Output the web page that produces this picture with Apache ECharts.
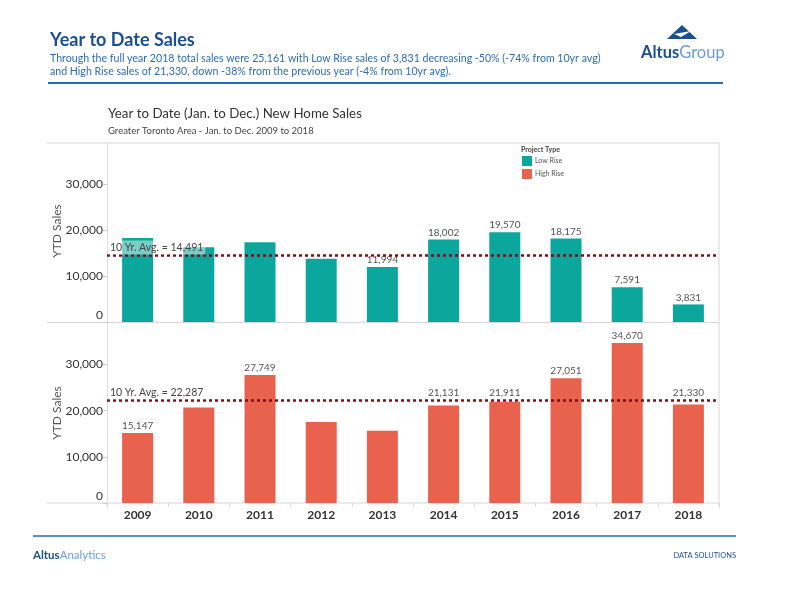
<!DOCTYPE html>
<html lang="en">
<head>
    <meta charset="UTF-8">
    <title>Year to Date Sales</title>
    <script src="https://cdn.jsdelivr.net/npm/echarts@6/dist/echarts.min.js"></script>
    <style>
        body { margin: 0; padding: 0; background: #fff; }
        #chart { width: 786px; height: 592px; }
    </style>
</head>
<body>
    <div id="chart"></div>
    <script>
        // data
        var years = ['2009', '2010', '2011', '2012', '2013', '2014', '2015', '2016', '2017', '2018'];
        var lowRise = [18300, 16300, 17390, 13760, 11994, 18002, 19570, 18175, 7591, 3831];
        var highRise = [15147, 20680, 27749, 17550, 15650, 21131, 21911, 27051, 34670, 21330];
        // which bars carry a value label in the original
        var lowLabelled = [false, false, false, false, true, true, true, true, true, true];
        var highLabelled = [true, false, true, false, false, true, true, true, true, true];
        var lowAvg = 14491;
        var highAvg = 22287;

        var teal = '#0ba79c';
        var salmon = '#e8624d';
        var navy = '#1b4f91';
        var lightBlue = '#6b9bd9';
        var font = 'Lato';
        var yMax = 39000;
        var panelHeight = 180;

        var myChart = echarts.init(document.getElementById('chart'));

        function fmt(v) {
            return Number(v).toLocaleString('en-US');
        }

        // labels of bars just under the average line get lifted over it, like the original
        function barData(values, shown, avg) {
            return values.map(function (v, i) {
                var dist = 2;
                if (v < avg && avg - v < 2000) {
                    dist = (avg - v) * panelHeight / yMax + 2;
                }
                return { value: v, label: { show: shown[i], distance: dist } };
            });
        }

        function avgLine(value) {
            return {
                silent: true,
                symbol: 'none',
                lineStyle: { color: '#7d0f12', type: [3, 3], width: 2.5 },
                label: {
                    show: true,
                    position: 'insideStartTop',
                    formatter: '10 Yr. Avg. = ' + fmt(value),
                    color: '#444',
                    fontSize: 10.5,
                    fontFamily: font,
                    backgroundColor: 'rgba(255,255,255,0.45)',
                    padding: [2, 2, 1, 2],
                    distance: [1, 1]
                },
                data: [{ yAxis: value }]
            };
        }

        function yAxisCfg(gridIndex) {
            return {
                type: 'value',
                gridIndex: gridIndex,
                min: 0,
                max: yMax,
                interval: 10000,
                axisLine: { show: true, lineStyle: { color: '#ddd' } },
                axisTick: { show: true, length: 4, lineStyle: { color: '#ccc' } },
                axisLabel: {
                    color: '#333', fontSize: 12, fontFamily: font, margin: 4,
                    showMaxLabel: false,
                    formatter: function (v) { return v === 0 ? '{z|0}' : fmt(v); },
                    rich: { z: { color: '#333', fontSize: 12, fontFamily: font, padding: [0, 0, 13, 0] } }
                },
                splitLine: { show: false }
            };
        }

        function axisTitle(cy) {
            return {
                type: 'text', x: 57, y: cy, rotation: Math.PI / 2,
                style: { text: 'YTD Sales', fill: '#555', font: '12px ' + font, align: 'center', verticalAlign: 'middle' }
            };
        }

        var labelStyle = { position: 'top', color: '#555', fontSize: 10, fontFamily: font, distance: 2, formatter: function (p) { return fmt(p.value); } };

        myChart.setOption({
            animation: false,
            textStyle: { fontFamily: font },
            legend: {
                orient: 'vertical',
                left: 522,
                top: 156,
                padding: 0,
                itemWidth: 10,
                itemHeight: 10,
                itemGap: 3,
                icon: 'rect',
                textStyle: { fontSize: 7, color: '#555', fontFamily: font, padding: [0, 0, 0, -2] },
                data: ['Low Rise', 'High Rise']
            },
            grid: [
                { left: 107, top: 143, width: 612, height: 179 },
                { left: 107, top: 323, width: 612, height: panelHeight }
            ],
            xAxis: [
                {
                    type: 'category', gridIndex: 0, data: years,
                    axisLine: { show: false }, axisTick: { show: false }, axisLabel: { show: false }
                },
                {
                    type: 'category', gridIndex: 1, data: years,
                    axisLine: { show: false },
                    axisTick: { show: true, length: 4, lineStyle: { color: '#ddd' } },
                    axisLabel: { color: '#333', fontSize: 12, fontWeight: 'bold', fontFamily: font, margin: 6 }
                }
            ],
            yAxis: [yAxisCfg(0), yAxisCfg(1)],
            series: [
                {
                    name: 'Low Rise',
                    type: 'bar',
                    xAxisIndex: 0,
                    yAxisIndex: 0,
                    barWidth: 31,
                    itemStyle: { color: teal },
                    label: labelStyle,
                    data: barData(lowRise, lowLabelled, 0),
                    markLine: avgLine(lowAvg)
                },
                {
                    name: 'High Rise',
                    type: 'bar',
                    xAxisIndex: 1,
                    yAxisIndex: 1,
                    barWidth: 31,
                    itemStyle: { color: salmon },
                    label: labelStyle,
                    data: barData(highRise, highLabelled, highAvg),
                    markLine: avgLine(highAvg)
                }
            ],
            graphic: [
                // header
                { type: 'text', left: 50, top: 31, style: { text: 'Year to Date Sales', fill: navy, font: 'bold 18px ' + font } },
                { type: 'text', left: 50, top: 53, style: { text: 'Through the full year 2018 total sales were 25,161 with Low Rise sales of 3,831 decreasing -50% (-74% from 10yr avg)', fill: '#2d6cb8', font: '10.6px ' + font } },
                { type: 'text', left: 50, top: 66, style: { text: 'and High Rise sales of 21,330, down -38% from the previous year (-4% from 10yr avg).', fill: '#2d6cb8', font: '10.6px ' + font } },
                { type: 'line', shape: { x1: 48, y1: 83, x2: 723, y2: 83 }, style: { stroke: '#1f6db6', lineWidth: 2 } },
                // logo
                { type: 'polygon', shape: { points: [[682, 25], [667, 39], [697, 39]] }, style: { fill: navy } },
                { type: 'polygon', shape: { points: [[674, 34], [691, 31], [681, 37]] }, style: { fill: '#fff' } },
                {
                    type: 'text', left: 641, top: 44,
                    style: {
                        text: '{a|Altus}{b|Group}',
                        rich: {
                            a: { fill: navy, font: 'bold 16.5px ' + font },
                            b: { fill: lightBlue, font: '16.5px ' + font }
                        }
                    }
                },
                // chart titles
                { type: 'text', left: 108, top: 107, style: { text: 'Year to Date (Jan. to Dec.) New Home Sales', fill: '#333', font: '13.3px ' + font } },
                { type: 'text', left: 108, top: 126, style: { text: 'Greater Toronto Area - Jan. to Dec. 2009 to 2018', fill: '#444', font: '9.5px ' + font } },
                { type: 'text', left: 521, top: 146, style: { text: 'Project Type', fill: '#444', font: 'bold 7px ' + font } },
                axisTitle(231),
                axisTitle(413),
                // panel frame
                { type: 'line', shape: { x1: 47, y1: 143, x2: 719, y2: 143 }, style: { stroke: '#d6d6d6', lineWidth: 1 } },
                { type: 'line', shape: { x1: 47, y1: 322.5, x2: 719, y2: 322.5 }, style: { stroke: '#d6d6d6', lineWidth: 1 } },
                { type: 'line', shape: { x1: 47, y1: 503, x2: 719, y2: 503 }, style: { stroke: '#d6d6d6', lineWidth: 1 } },
                { type: 'line', shape: { x1: 719, y1: 143, x2: 719, y2: 508 }, style: { stroke: '#d6d6d6', lineWidth: 1 } },
                { type: 'line', shape: { x1: 107, y1: 503, x2: 107, y2: 508 }, style: { stroke: '#ddd', lineWidth: 1 } },
                // footer
                { type: 'line', shape: { x1: 33, y1: 536, x2: 736, y2: 536 }, style: { stroke: '#1f6db6', lineWidth: 1.5 } },
                {
                    type: 'text', left: 33, top: 549,
                    style: {
                        text: '{a|Altus}{b|Analytics}',
                        rich: {
                            a: { fill: navy, font: 'bold 11.5px ' + font },
                            b: { fill: lightBlue, font: '11.5px ' + font }
                        }
                    }
                },
                { type: 'text', right: 50, top: 552, style: { text: 'DATA SOLUTIONS', fill: navy, font: '7.5px ' + font } }
            ]
        });
    </script>
</body>
</html>
